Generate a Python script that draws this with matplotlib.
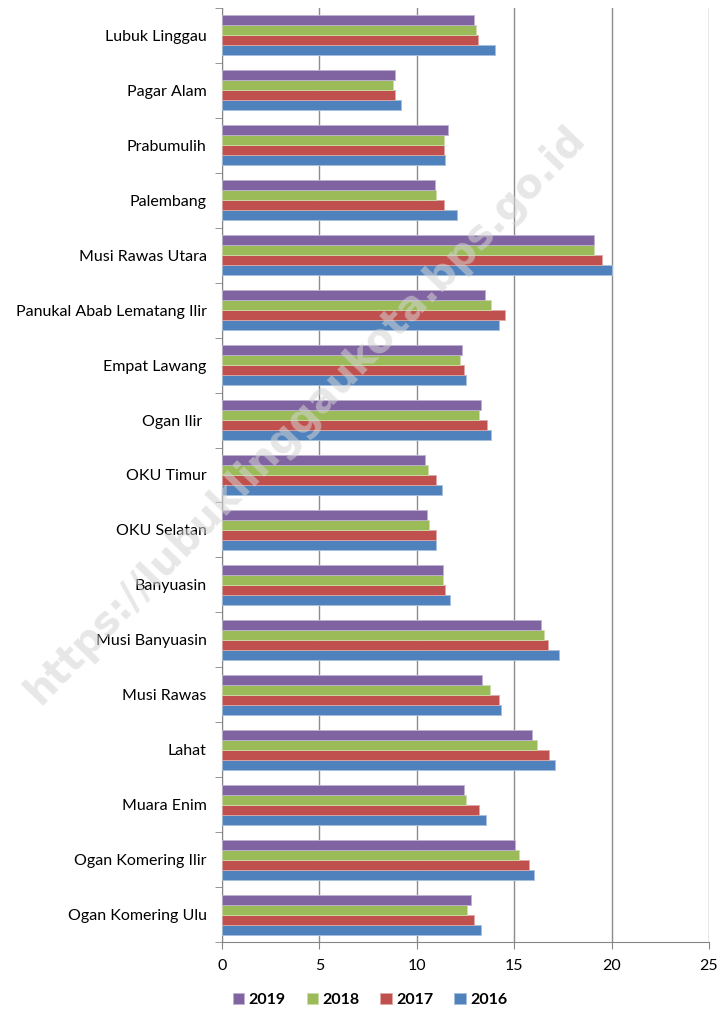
import numpy as np
import matplotlib.pyplot as plt

plt.rcParams['font.family'] = ['Lato', 'DejaVu Sans']

# kabupaten/kota, bottom to top as drawn
regions = ['Ogan Komering Ulu', 'Ogan Komering Ilir', 'Muara Enim', 'Lahat',
           'Musi Rawas', 'Musi Banyuasin', 'Banyuasin', 'OKU Selatan',
           'OKU Timur', 'Ogan Ilir ', 'Empat Lawang', 'Panukal Abab Lematang Ilir',
           'Musi Rawas Utara', 'Palembang', 'Prabumulih', 'Pagar Alam',
           'Lubuk Linggau']

v2016 = [13.29, 16.03, 13.56, 17.11, 14.30, 17.28, 11.71, 10.96, 11.30, 13.80,
         12.53, 14.23, 20.00, 12.04, 11.46, 9.18, 13.99]
v2017 = [12.95, 15.75, 13.18, 16.80, 14.23, 16.75, 11.47, 10.99, 11.01, 13.58,
         12.43, 14.54, 19.49, 11.42, 11.42, 8.89, 13.13]
v2018 = [12.60, 15.27, 12.55, 16.15, 13.75, 16.52, 11.32, 10.65, 10.58, 13.18,
         12.24, 13.82, 19.11, 10.96, 11.39, 8.78, 13.03]
v2019 = [12.77, 15.02, 12.41, 15.91, 13.37, 16.40, 11.34, 10.53, 10.43, 13.32,
         12.31, 13.48, 19.11, 10.91, 11.61, 8.90, 12.95]

years = ['2016', '2017', '2018', '2019']
series = [v2016, v2017, v2018, v2019]
colors = ['#4F81BD', '#C0504D', '#9BBB59', '#8064A2']
edges = ['#A7C0DE', '#DFA8A6', '#CDDDAC', '#BFB1D0']

fig = plt.figure(figsize=(7.2, 10.11), dpi=100)
ax = fig.add_axes([222 / 720, 1 - 942 / 1011, 487 / 720, 934 / 1011])

y = np.arange(len(regions))
h = 1 / 5.5
bars = []
for i, (yr, vals, c, e) in enumerate(zip(years, series, colors, edges)):
    b = ax.barh(y + (i - 1.5) * h, vals, height=h, color=c, edgecolor=e,
                linewidth=0.6, label=yr, zorder=3)
    bars.append(b)

ax.set_xlim(0, 25)
ax.set_ylim(-0.5, len(regions) - 0.5)
ax.set_xticks(np.arange(0, 26, 5))
ax.set_yticks(y)
ax.set_yticklabels(regions, fontsize=11.5)
ax.set_yticks(np.arange(-0.5, len(regions), 1), minor=True)
ax.tick_params(axis='y', which='major', length=0, pad=11)
ax.tick_params(axis='y', which='minor', length=5, color='#868686', direction='out')
ax.tick_params(axis='x', length=5, color='#868686', labelsize=11.5, pad=7)
ax.grid(axis='x', color='#8C8C8C', linewidth=1, zorder=0)
for s in ['top', 'right']:
    ax.spines[s].set_visible(False)
for s in ['left', 'bottom']:
    ax.spines[s].set_color('#868686')

# watermark
fig.text(0.425, 0.59, 'https://lubuklinggaukota.bps.go.id', fontsize=29,
         fontweight='bold', family='DejaVu Sans', color='#D4D4D4', alpha=0.55,
         rotation=46, ha='center', va='center', zorder=5)

handles = bars[::-1]
fig.legend(handles, years[::-1], loc='center', bbox_to_anchor=(0.514, 1 - 1000 / 1011),
           ncol=4, frameon=False, handlelength=0.7, handleheight=0.7,
           handletextpad=0.3, columnspacing=1.3,
           prop={'weight': 'bold', 'size': 11.5})

fig.savefig('out.png', dpi=100)
